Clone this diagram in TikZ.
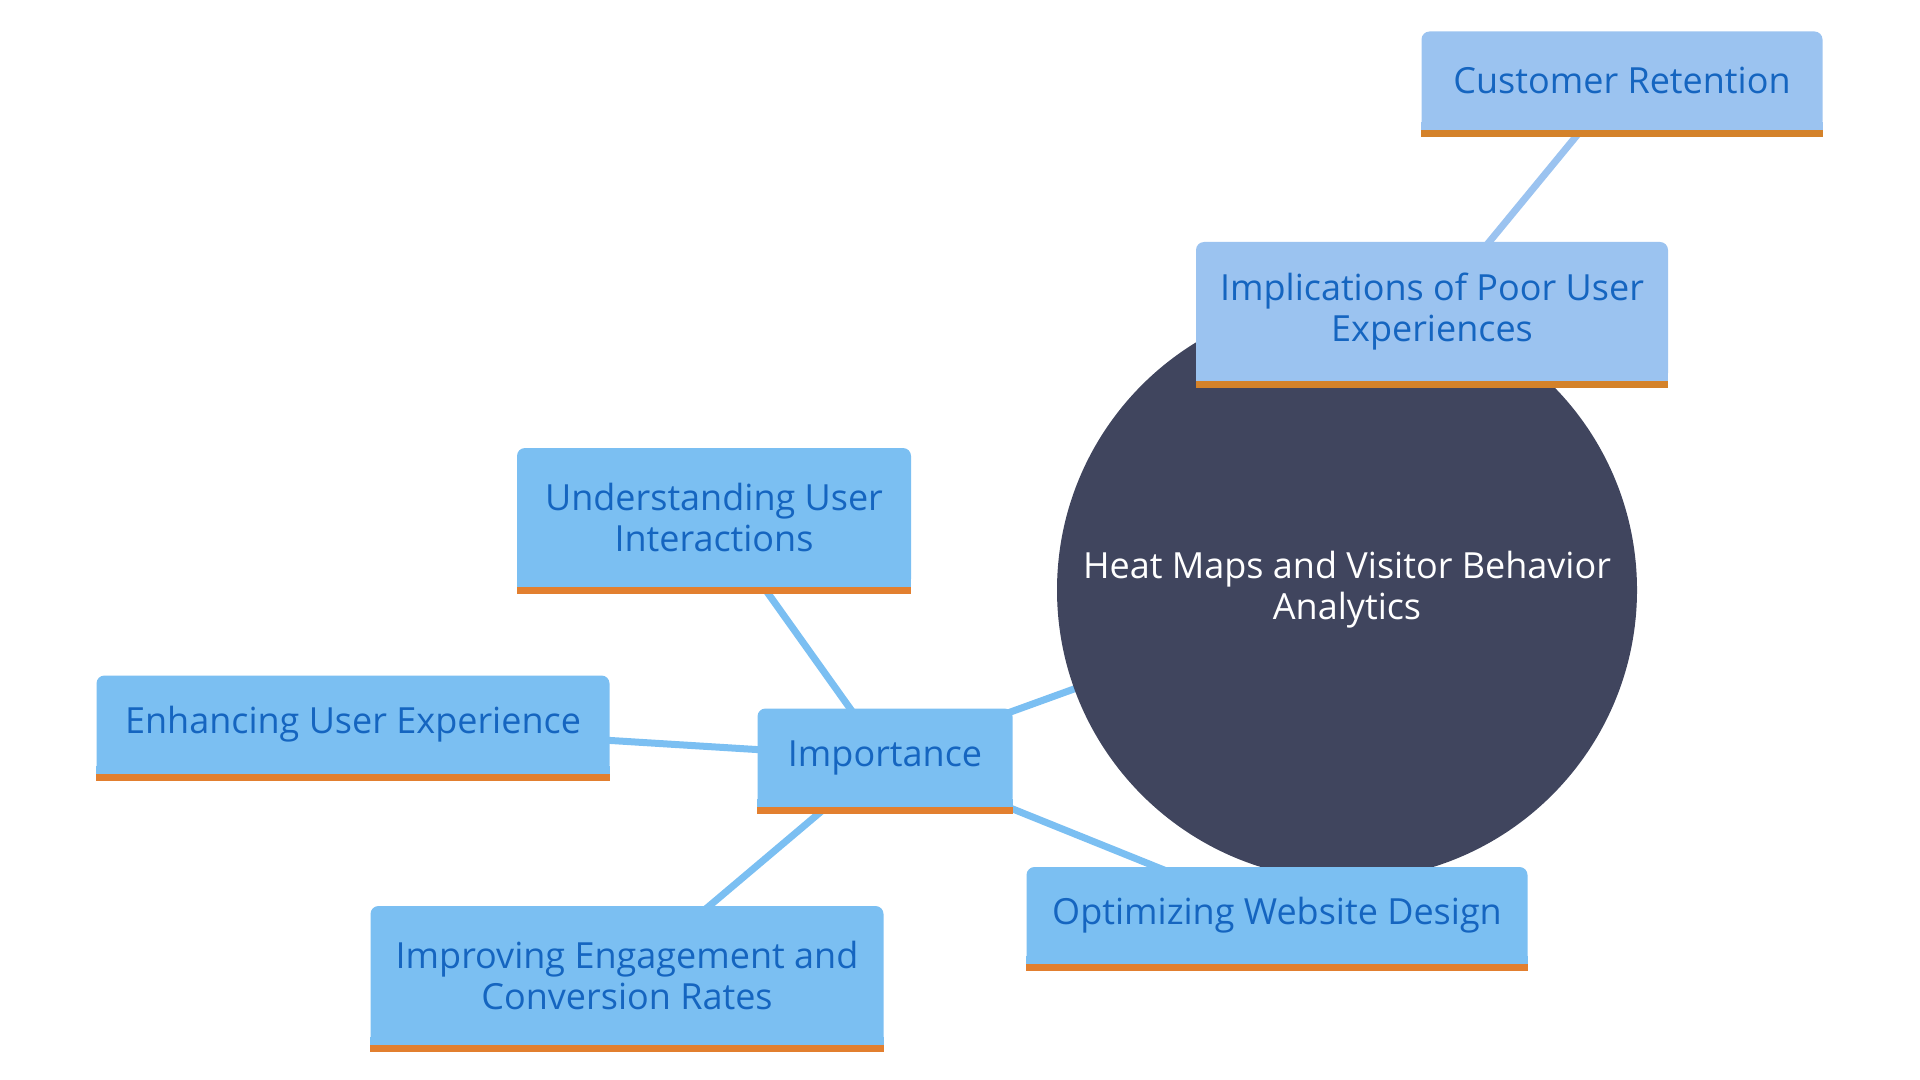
\documentclass[tikz,border=0pt]{standalone}
\usepackage{fontspec}
\setmainfont{Open Sans}
\definecolor{hubgray}{HTML}{40455E}
\definecolor{leafblue}{HTML}{7BBFF2}
\definecolor{paleblue}{HTML}{9BC3F0}
\definecolor{inkblue}{HTML}{1565C0}
\definecolor{barorange}{HTML}{E27F2F}
\definecolor{barbrown}{HTML}{D4822A}
\begin{document}
\begin{tikzpicture}[x=0.5pt, y=-0.5pt,
  every node/.style={font=\fontsize{18}{20.5}\selectfont, align=center},
  topic/.style={fill=leafblue, text=inkblue, rounded corners=4pt, inner sep=0pt},
  subtopic/.style={topic, fill=paleblue},
  link/.style={line width=3.5pt, leafblue},
  palelink/.style={link, paleblue}]
  \useasboundingbox (0,0) rectangle (1920,1080);
  % positions only, edges go underneath
  \coordinate (hubc) at (1347,590);
  \coordinate (retc) at (1622,80.5);
  \coordinate (implc) at (1432,311.5);
  \coordinate (undc) at (714,517.5);
  \coordinate (enhc) at (353,724.5);
  \coordinate (impc) at (885,757.5);
  \coordinate (optc) at (1277,915.5);
  \coordinate (imprc) at (627,975.5);
  \draw[palelink] (retc) -- (implc);
  \draw[palelink] (implc) -- (hubc);
  \draw[link] (hubc) -- (impc);
  \draw[link] (impc) -- (undc);
  \draw[link] (impc) -- (enhc);
  \draw[link] (impc) -- (optc);
  \draw[link] (impc) -- (imprc);
  % central circle
  \node[circle, fill=hubgray, text=white, minimum size=290pt, inner sep=0pt] (hub) at (hubc) {Heat Maps and Visitor Behavior\\Analytics};
  % topic boxes
  \node[subtopic, minimum width=200.5pt, minimum height=49pt] (ret) at (retc) {Customer Retention};
  \node[subtopic, minimum width=236pt, minimum height=69.5pt] (impl) at (implc) {Implications of Poor User\\Experiences};
  \node[topic, minimum width=197pt, minimum height=69.5pt] (und) at (undc) {Understanding User\\Interactions};
  \node[topic, minimum width=256.5pt, minimum height=49pt] (enh) at (enhc) {Enhancing User Experience};
  \node[topic, minimum width=127.5pt, minimum height=49pt] (imp) at (impc) {Importance};
  \node[topic, minimum width=250.5pt, minimum height=48.5pt] (opt) at (optc) {Optimizing Website Design};
  \node[topic, minimum width=256.5pt, minimum height=69.5pt] (impr) at (imprc) {Improving Engagement and\\Conversion Rates};
  % square off the bottom and add the orange bars
  \foreach \n/\c/\b in {ret/paleblue/barbrown, impl/paleblue/barbrown, und/leafblue/barorange,
      enh/leafblue/barorange, imp/leafblue/barorange, opt/leafblue/barorange, impr/leafblue/barorange} {
    \fill[\c] ([yshift=4pt]\n.south west) rectangle (\n.south east);
    \fill[\b] (\n.south west) rectangle ([yshift=-3.5pt]\n.south east);
  }
\end{tikzpicture}
\end{document}
